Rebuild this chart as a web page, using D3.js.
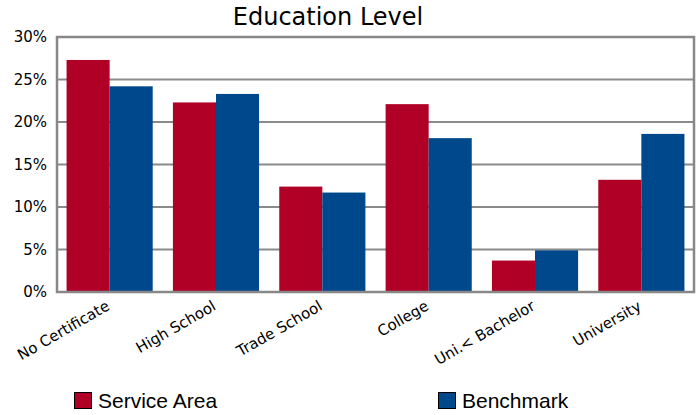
<!DOCTYPE html>
<html>
<head>
<meta charset="utf-8">
<script src="https://cdn.jsdelivr.net/npm/d3@7"></script>
<style>
  body { margin: 0; background: #fff; }
  svg { display: block; }
</style>
</head>
<body>
<div id="chart"></div>
<script>
// Datos del gráfico
const categories = ["No Certificate", "High School", "Trade School", "College", "Uni.< Bachelor", "University"];
const seriesNames = ["Service Area", "Benchmark"];
const serviceArea = [27.3, 22.3, 12.4, 22.1, 3.7, 13.2];
const benchmark = [24.2, 23.3, 11.7, 18.1, 4.9, 18.6];
const yTicks = [0, 5, 10, 15, 20, 25, 30];
const colors = ["#b00026", "#00488c"];

const width = 700, height = 415;
const plot = { left: 57, right: 694, top: 37, bottom: 292 };

const svg = d3.select("#chart").append("svg")
    .attr("width", width)
    .attr("height", height);

// Escalas
const x0 = d3.scaleBand().domain(categories)
    .range([plot.left, plot.right])
    .paddingInner(0.19).paddingOuter(0.09);
const x1 = d3.scaleBand().domain(seriesNames).range([0, x0.bandwidth()]);
const y = d3.scaleLinear().domain([0, 30]).range([plot.bottom, plot.top]);

// Título
svg.append("text")
    .attr("x", 328).attr("y", 25)
    .attr("text-anchor", "middle")
    .style("font-family", "DejaVu Sans, Verdana, sans-serif")
    .style("font-size", "24px")
    .text("Education Level");

// Líneas de la cuadrícula
svg.append("g").selectAll("line").data(yTicks).join("line")
    .attr("x1", plot.left).attr("x2", plot.right)
    .attr("y1", d => y(d)).attr("y2", d => y(d))
    .attr("stroke", "#8a8a8a").attr("stroke-width", 2);

// Eje Y
const yAxis = svg.append("g")
    .attr("transform", "translate(" + plot.left + ",0)")
    .call(d3.axisLeft(y).tickValues(yTicks).tickSize(0).tickPadding(10).tickFormat(d => d + "%"));
yAxis.select(".domain").remove();
yAxis.selectAll("text")
    .style("font-family", "DejaVu Sans, Verdana, sans-serif")
    .style("font-size", "15px")
    .attr("fill", "#000");

// Barras
const rows = categories.map((c, i) => ({ cat: c, vals: [serviceArea[i], benchmark[i]] }));
svg.append("g").selectAll("g").data(rows).join("g")
    .attr("transform", d => "translate(" + x0(d.cat) + ",0)")
    .selectAll("rect").data(d => d.vals.map((v, j) => ({ name: seriesNames[j], v: v, j: j })))
    .join("rect")
    .attr("x", d => x1(d.name))
    .attr("width", x1.bandwidth())
    .attr("y", d => y(d.v))
    .attr("height", d => y(0) - y(d.v))
    .attr("fill", d => colors[d.j]);

// Marco
svg.append("rect")
    .attr("x", plot.left).attr("y", plot.top)
    .attr("width", plot.right - plot.left).attr("height", plot.bottom - plot.top)
    .attr("fill", "none").attr("stroke", "#888").attr("stroke-width", 2.5);

// Etiquetas del eje X
svg.append("g").selectAll("text").data(categories).join("text")
    .attr("transform", d => "translate(" + (x0(d) + x0.bandwidth() / 2 + 1) + ",309) rotate(-30)")
    .attr("text-anchor", "end")
    .style("font-family", "DejaVu Sans, Verdana, sans-serif")
    .style("font-size", "15px")
    .text(d => d);

// Leyenda
const legendX = [74, 438];
const legend = svg.append("g").selectAll("g").data(seriesNames).join("g")
    .attr("transform", (d, i) => "translate(" + legendX[i] + ",392)");
legend.append("rect")
    .attr("x", 0.5).attr("y", 0.5)
    .attr("width", 17).attr("height", 16)
    .attr("fill", (d, i) => colors[i])
    .attr("stroke", "#000").attr("stroke-width", 1);
legend.append("text")
    .attr("x", 24).attr("y", 15.5)
    .style("font-family", "Liberation Sans, Arial, sans-serif")
    .style("font-size", "21px")
    .text(d => d);
</script>
</body>
</html>
